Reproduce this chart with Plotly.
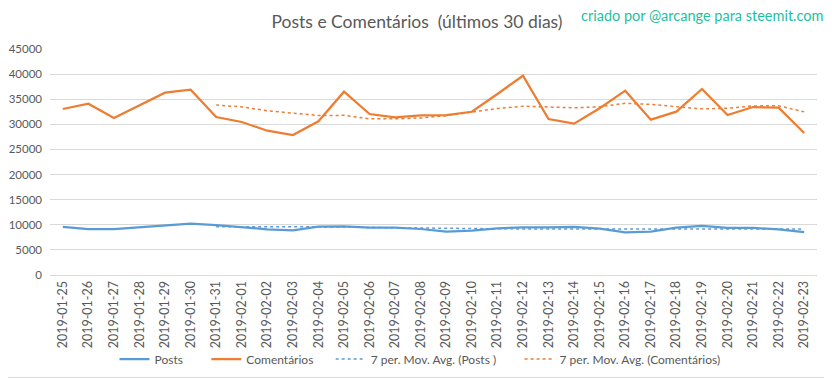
import pandas as pd
import plotly.graph_objects as go

dates = ["2019-01-25", "2019-01-26", "2019-01-27", "2019-01-28", "2019-01-29", "2019-01-30",
         "2019-01-31", "2019-02-01", "2019-02-02", "2019-02-03", "2019-02-04", "2019-02-05",
         "2019-02-06", "2019-02-07", "2019-02-08", "2019-02-09", "2019-02-10", "2019-02-11",
         "2019-02-12", "2019-02-13", "2019-02-14", "2019-02-15", "2019-02-16", "2019-02-17",
         "2019-02-18", "2019-02-19", "2019-02-20", "2019-02-21", "2019-02-22", "2019-02-23"]

posts = [9560, 9160, 9160, 9500, 9820, 10210, 9950, 9560, 9090, 8890, 9620, 9690,
         9420, 9420, 9160, 8630, 8820, 9290, 9490, 9490, 9560, 9230, 8500, 8630,
         9420, 9760, 9360, 9360, 9090, 8560]

comentarios = [33050, 34100, 31260, 33800, 36300, 36900, 31460, 30460, 28730, 27870, 30600, 36500,
               32050, 31400, 31800, 31850, 32500, 36040, 39680, 31060, 30130, 33200, 36700, 30930,
               32520, 37030, 31860, 33450, 33310, 28270]

ma_window = 7
posts_ma = pd.Series(posts).rolling(ma_window).mean().tolist()
coment_ma = pd.Series(comentarios).rolling(ma_window).mean().tolist()

BLUE = "#5B9BD5"
ORANGE = "#ED7D31"
GRAY = "#595959"
GRID = "#D9D9D9"
FONT = "Lato, Open Sans, sans-serif"
NB = "\u00a0"

fig = go.Figure()
fig.add_trace(go.Scatter(x=dates, y=posts, mode="lines", name="Posts" + NB * 6,
                         line=dict(color=BLUE, width=2.25)))
fig.add_trace(go.Scatter(x=dates, y=comentarios, mode="lines", name="Comentários" + NB * 4,
                         line=dict(color=ORANGE, width=2.25)))
fig.add_trace(go.Scatter(x=dates, y=posts_ma, mode="lines",
                         name="7 per. Mov. Avg. (Posts )" + NB * 6,
                         line=dict(color=BLUE, width=1.5, dash="dot")))
fig.add_trace(go.Scatter(x=dates, y=coment_ma, mode="lines",
                         name="7 per. Mov. Avg. (Comentários)",
                         line=dict(color=ORANGE, width=1.5, dash="dot")))

# page body has an 8px margin; figure occupies page x 8..831, y 8..377
OFF = 8
W, H = 832 - OFF, 378 - OFF
L, R, T, B = 50 - OFF, 15, 49 - OFF, 103
pw, ph = W - L - R, H - T - B

fig.update_layout(
    width=W, height=H,
    margin=dict(l=L, r=R, t=T, b=B, autoexpand=False),
    paper_bgcolor="white", plot_bgcolor="white",
    font=dict(family=FONT, color=GRAY, size=11),
    title=dict(text="Posts e Comentários  (últimos 30 dias)", x=(417 - OFF) / W, xanchor="center",
               y=1 - (22 - OFF) / H, yanchor="middle",
               font=dict(family=FONT, size=17.5, color=GRAY)),
    showlegend=True,
    legend=dict(orientation="h", xref="container", yref="container",
                x=(420 - OFF) / W, xanchor="center", y=1 - (359 - OFF) / H, yanchor="middle",
                font=dict(family=FONT, size=12, color=GRAY), itemwidth=30,
                bgcolor="rgba(0,0,0,0)"),
    xaxis=dict(type="category", tickangle=-90, showgrid=False, showline=True,
               linecolor=GRID, linewidth=1, ticks="", tickfont=dict(size=12.5, color=GRAY),
               range=[-0.5, len(dates) - 0.5], automargin=False),
    yaxis=dict(range=[0, 45000], dtick=5000, tickformat="d", showgrid=True, gridcolor=GRID,
               gridwidth=1, zeroline=False, showline=False, ticks="",
               tickfont=dict(size=11.5, color=GRAY), ticklabelstandoff=7, automargin=False),
    annotations=[dict(text="criado por @arcange para steemit.com", xref="paper", yref="paper",
                      x=(825 - OFF - L) / pw, xanchor="right",
                      y=(H - B - (15 - OFF)) / ph, yanchor="middle",
                      showarrow=False, font=dict(family=FONT, size=14.5, color="#1EC0A0"))],
    shapes=[
        dict(type="line", xref="paper", yref="paper",
             x0=(831.5 - OFF - L) / pw, x1=(831.5 - OFF - L) / pw,
             y0=(H - B - (377.5 - OFF)) / ph, y1=(H - B) / ph + 1,
             line=dict(color=GRID, width=1)),
        dict(type="line", xref="paper", yref="paper",
             x0=-L / pw, x1=(831.5 - OFF - L) / pw,
             y0=(H - B - (377.5 - OFF)) / ph, y1=(H - B - (377.5 - OFF)) / ph,
             line=dict(color=GRID, width=1)),
    ],
)

fig.write_html("out.html")
